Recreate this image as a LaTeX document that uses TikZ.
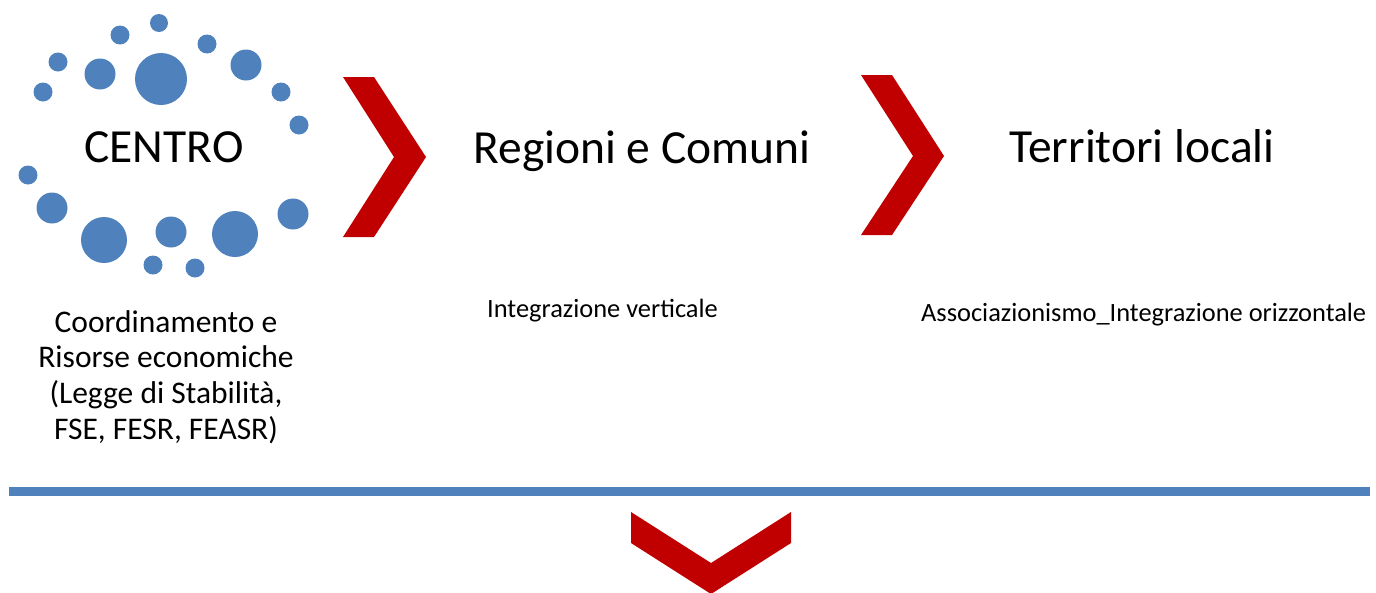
\documentclass[tikz,border=0pt]{standalone}
\usepackage{fontspec}
\setmainfont{Carlito}
\definecolor{dotblue}{HTML}{4F81BD}
\definecolor{chevred}{HTML}{C00000}
\begin{document}
\begin{tikzpicture}[x=1pt,y=-1pt,
  dot/.style={circle,fill=dotblue,draw=none,inner sep=0pt,minimum size=#1},
  chev/.style={fill=chevred,draw=none},
  bigtxt/.style={font=\fontsize{47.5}{58}\selectfont,inner sep=0pt,anchor=base},
  smalltxt/.style={font=\fontsize{26.4}{31}\selectfont,inner sep=0pt,anchor=base west},
  desctxt/.style={font=\fontsize{31.5}{35.6}\selectfont,inner sep=0pt,align=center,anchor=base}
]
\useasboundingbox (0,0) rectangle (1376,592);
% dots
\node[dot=18pt] (c1) at (159,23) {};
\node[dot=19pt] (c2) at (120,35) {};
\node[dot=19pt] (c3) at (207,44) {};
\node[dot=19pt] (c4) at (58,62) {};
\node[dot=31pt] (c5) at (100,74) {};
\node[dot=52pt] (c6) at (161,79) {};
\node[dot=31pt] (c7) at (246,65) {};
\node[dot=19pt] (c8) at (43,92) {};
\node[dot=19pt] (c9) at (281,92) {};
\node[dot=19pt] (c10) at (299,125) {};
\node[dot=19pt] (c11) at (28,175) {};
\node[dot=31pt] (c12) at (52,208) {};
\node[dot=46pt] (c13) at (104,240) {};
\node[dot=31pt] (c14) at (171,232) {};
\node[dot=46pt] (c15) at (235,234) {};
\node[dot=31pt] (c16) at (293,214) {};
\node[dot=19pt] (c17) at (153,265) {};
\node[dot=19pt] (c18) at (195,268) {};
% titles
\node[bigtxt] (centro) at (164,162) {CENTRO};
\node[bigtxt] (regioni) at (642,163) {Regioni e Comuni};
\node[bigtxt] (territori) at (1142,162) {Territori locali};
% chevrons
\path[chev] (343,77) -- (374,77) -- (426,157) -- (374,237) -- (343,237) -- (394,157) -- cycle;
\path[chev] (861,75) -- (892,75) -- (944,156) -- (892,235) -- (861,235) -- (913,156) -- cycle;
\path[chev] (631,512) -- (711,563) -- (791,512) -- (791,543) -- (711,594) -- (631,543) -- cycle;
% descriptions
\node[desctxt] (desc1) at (166,439) {Coordinamento e\\Risorse economiche\\(Legge di Stabilità,\\FSE, FESR, FEASR)};
\node[smalltxt] (desc2) at (487,317) {Integrazione verticale};
\node[smalltxt] (desc3) at (921,321) {Associazionismo\_Integrazione orizzontale};
% rule
\draw[dotblue,line width=9pt] (9,491.5) -- (1370,491.5);
\end{tikzpicture}
\end{document}
